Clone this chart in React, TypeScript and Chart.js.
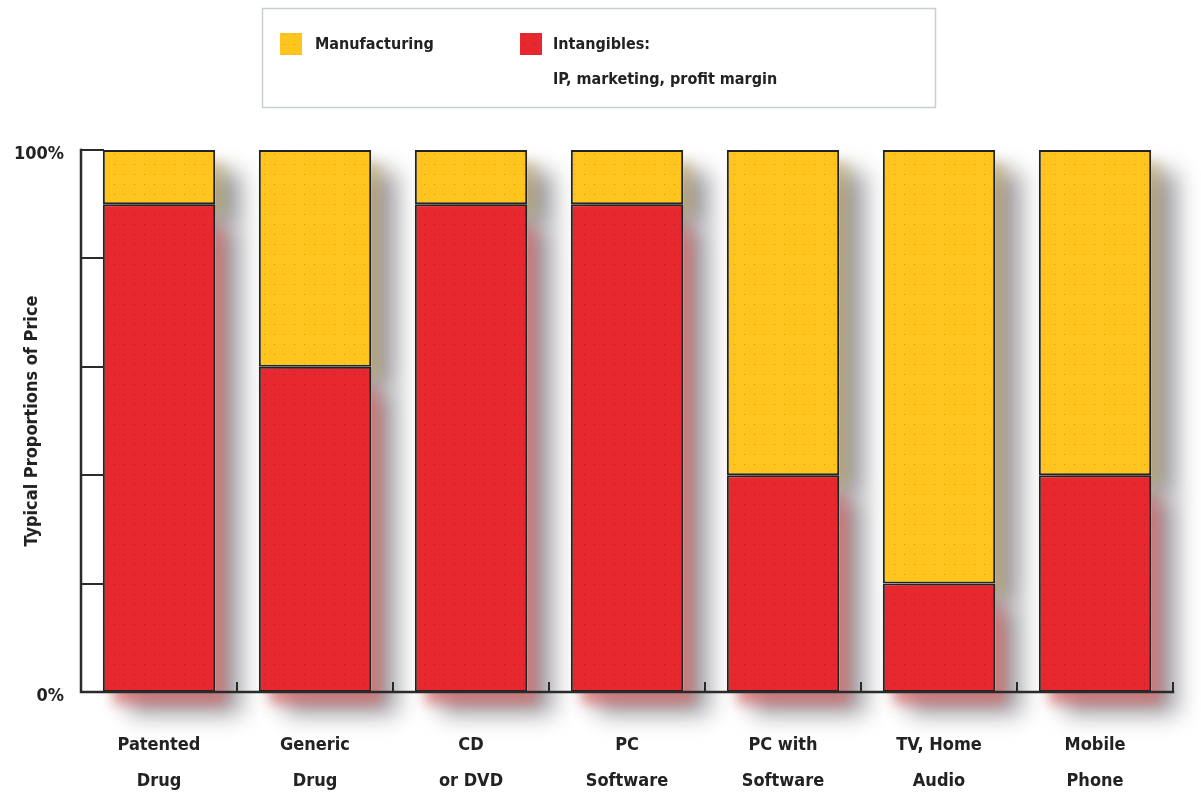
import { useEffect, useRef } from "react";
import { Chart, registerables } from "chart.js";

Chart.register(...registerables);

// Product categories (two-line axis labels)
const categories: string[][] = [
  ["Patented", "Drug"],
  ["Generic", "Drug"],
  ["CD", "or DVD"],
  ["PC", "Software"],
  ["PC with", "Software"],
  ["TV, Home", "Audio"],
  ["Mobile", "Phone"],
];

// Share of price, in percent
const intangibles: number[] = [90, 60, 90, 90, 40, 20, 40];
const manufacturing: number[] = [10, 40, 10, 10, 60, 80, 60];

const manufacturingLabel: string[] = ["Manufacturing"];
const intangiblesLabel: string[] = ["Intangibles:", "IP, marketing, profit margin"];

const yTickLabels: Record<number, string> = { 0: "0%", 100: "100%" };
const yTitle = "Typical Proportions of Price";

const YELLOW = "#FFC51E";
const RED = "#E8282F";
const FONT = "'DejaVu Sans Condensed', 'DejaVu Sans', sans-serif";

// Halftone-style fill: flat colour with a sparse grid of darker dots
function dotPattern(base: string, dot: string): CanvasPattern | string {
  const c = document.createElement("canvas");
  c.width = 10;
  c.height = 10;
  const g = c.getContext("2d");
  if (!g) return base;
  g.fillStyle = base;
  g.fillRect(0, 0, 10, 10);
  g.fillStyle = dot;
  g.fillRect(4, 4, 1, 1);
  const p = g.createPattern(c, "repeat");
  return p ?? base;
}

// Soft drop shadow behind every bar segment: a wide grey haze plus a tinted inner glow
const barShadow = {
  id: "barShadow",
  beforeDatasetsDraw(chart: any) {
    const ctx: CanvasRenderingContext2D = chart.ctx;
    const tints = ["rgba(215,110,110,0.75)", "rgba(195,170,110,0.6)"];
    const passes = (di: number) => [
      { color: "rgba(155,155,160,1)", blur: 22, dx: 26, dy: 22 },
      { color: tints[di], blur: 12, dx: 10, dy: 12 },
    ];
    chart.data.datasets.forEach((_ds: any, di: number) => {
      const meta = chart.getDatasetMeta(di);
      meta.data.forEach((el: any) => {
        const { x, y, base, width } = el.getProps(["x", "y", "base", "width"], true);
        passes(di).forEach((p) => {
          ctx.save();
          ctx.shadowColor = p.color;
          ctx.shadowBlur = p.blur;
          ctx.shadowOffsetX = p.dx;
          ctx.shadowOffsetY = p.dy;
          ctx.fillStyle = "#fff";
          ctx.fillRect(x - width / 2, Math.min(y, base), width, Math.abs(base - y));
          ctx.restore();
        });
      });
    });
  },
};

// Axis lines with inward ticks on y and upward ticks at category edges on x
const axisFrame = {
  id: "axisFrame",
  afterDatasetsDraw(chart: any) {
    const ctx: CanvasRenderingContext2D = chart.ctx;
    const { left, right, top, bottom } = chart.chartArea;
    const ys = chart.scales.y;
    const xs = chart.scales.x;
    ctx.save();
    ctx.strokeStyle = "#2a2a2a";
    ctx.lineCap = "square";
    ctx.lineWidth = 2.5;
    ctx.beginPath();
    ctx.moveTo(left, top);
    ctx.lineTo(left, bottom);
    ctx.lineTo(right, bottom);
    ctx.stroke();
    ctx.lineWidth = 2;
    ys.ticks.forEach((t: any) => {
      const py = Math.round(ys.getPixelForValue(t.value));
      ctx.beginPath();
      ctx.moveTo(left, py);
      ctx.lineTo(left + 22, py);
      ctx.stroke();
    });
    const step = xs.getPixelForValue(1) - xs.getPixelForValue(0);
    for (let i = 0; i < categories.length; i++) {
      const px = Math.round(xs.getPixelForValue(i) + step / 2);
      ctx.beginPath();
      ctx.moveTo(px, bottom);
      ctx.lineTo(px, bottom - 9);
      ctx.stroke();
    }
    ctx.restore();
  },
};

// Boxed legend above the plot
const boxLegend = {
  id: "boxLegend",
  afterDraw(chart: any) {
    const ctx: CanvasRenderingContext2D = chart.ctx;
    const ds = chart.data.datasets;
    ctx.save();
    ctx.strokeStyle = "#c8cfd3";
    ctx.lineWidth = 1.5;
    ctx.strokeRect(262.5, 8.5, 673, 99);
    ctx.font = `bold 16px ${FONT}`;
    ctx.fillStyle = "#222";
    ctx.textBaseline = "middle";
    const items = [
      { ds: ds[1], lines: manufacturingLabel, sx: 280, tx: 315 },
      { ds: ds[0], lines: intangiblesLabel, sx: 520, tx: 553 },
    ];
    items.forEach((it) => {
      ctx.fillStyle = it.ds.backgroundColor;
      ctx.fillRect(it.sx, 33, 22, 22);
      ctx.fillStyle = "#222";
      it.lines.forEach((ln: string, i: number) => {
        ctx.fillText(ln, it.tx, 45 + i * 35);
      });
    });
    ctx.restore();
  },
};

export default function App() {
  const ref = useRef<HTMLCanvasElement | null>(null);

  useEffect(() => {
    const canvas = ref.current;
    if (!canvas) return;
    const chart = new Chart(canvas, {
      type: "bar",
      data: {
        labels: categories,
        datasets: [
          {
            label: intangiblesLabel.join(" "),
            data: intangibles,
            backgroundColor: dotPattern(RED, "#b8141c") as any,
            borderColor: "#222",
            borderWidth: 2,
            borderSkipped: false,
            barPercentage: 0.72,
            categoryPercentage: 1,
          },
          {
            label: manufacturingLabel.join(" "),
            data: manufacturing,
            backgroundColor: dotPattern(YELLOW, "#c9961a") as any,
            borderColor: "#222",
            borderWidth: 2,
            borderSkipped: false,
            barPercentage: 0.72,
            categoryPercentage: 1,
          },
        ],
      },
      options: {
        responsive: false,
        animation: false,
        devicePixelRatio: 1,
        layout: { padding: { top: 150, right: 28, left: 0, bottom: 0 } },
        plugins: {
          legend: { display: false },
          tooltip: { enabled: false },
        },
        scales: {
          x: {
            stacked: true,
            grid: { display: false, drawTicks: false },
            border: { display: false },
            ticks: {
              color: "#222",
              padding: 35,
              maxRotation: 0,
              font: { family: FONT, size: 18, weight: "bold", lineHeight: 2.0 },
            },
            afterFit(scale: any) {
              scale.height = 104;
            },
          },
          y: {
            stacked: true,
            min: 0,
            max: 100,
            grid: { display: false, drawTicks: false },
            border: { display: false },
            ticks: {
              stepSize: 20,
              color: "#222",
              padding: 17,
              labelOffset: 4,
              font: { family: FONT, size: 18, weight: "bold" },
              callback: (v: any) => yTickLabels[Number(v)] ?? "",
            },
            title: {
              display: true,
              text: yTitle,
              color: "#222",
              padding: { top: 22, bottom: 0 },
              font: { family: FONT, size: 18, weight: "bold" },
            },
            afterFit(scale: any) {
              scale.width = 81;
            },
          },
        },
      },
      plugins: [barShadow, axisFrame, boxLegend],
    });
    return () => chart.destroy();
  }, []);

  return (
    <div style={{ position: "absolute", left: 0, top: 0, width: 1201, height: 796, background: "#fff" }}>
      <canvas ref={ref} width={1201} height={796} style={{ width: 1201, height: 796, display: "block" }} />
    </div>
  );
}
